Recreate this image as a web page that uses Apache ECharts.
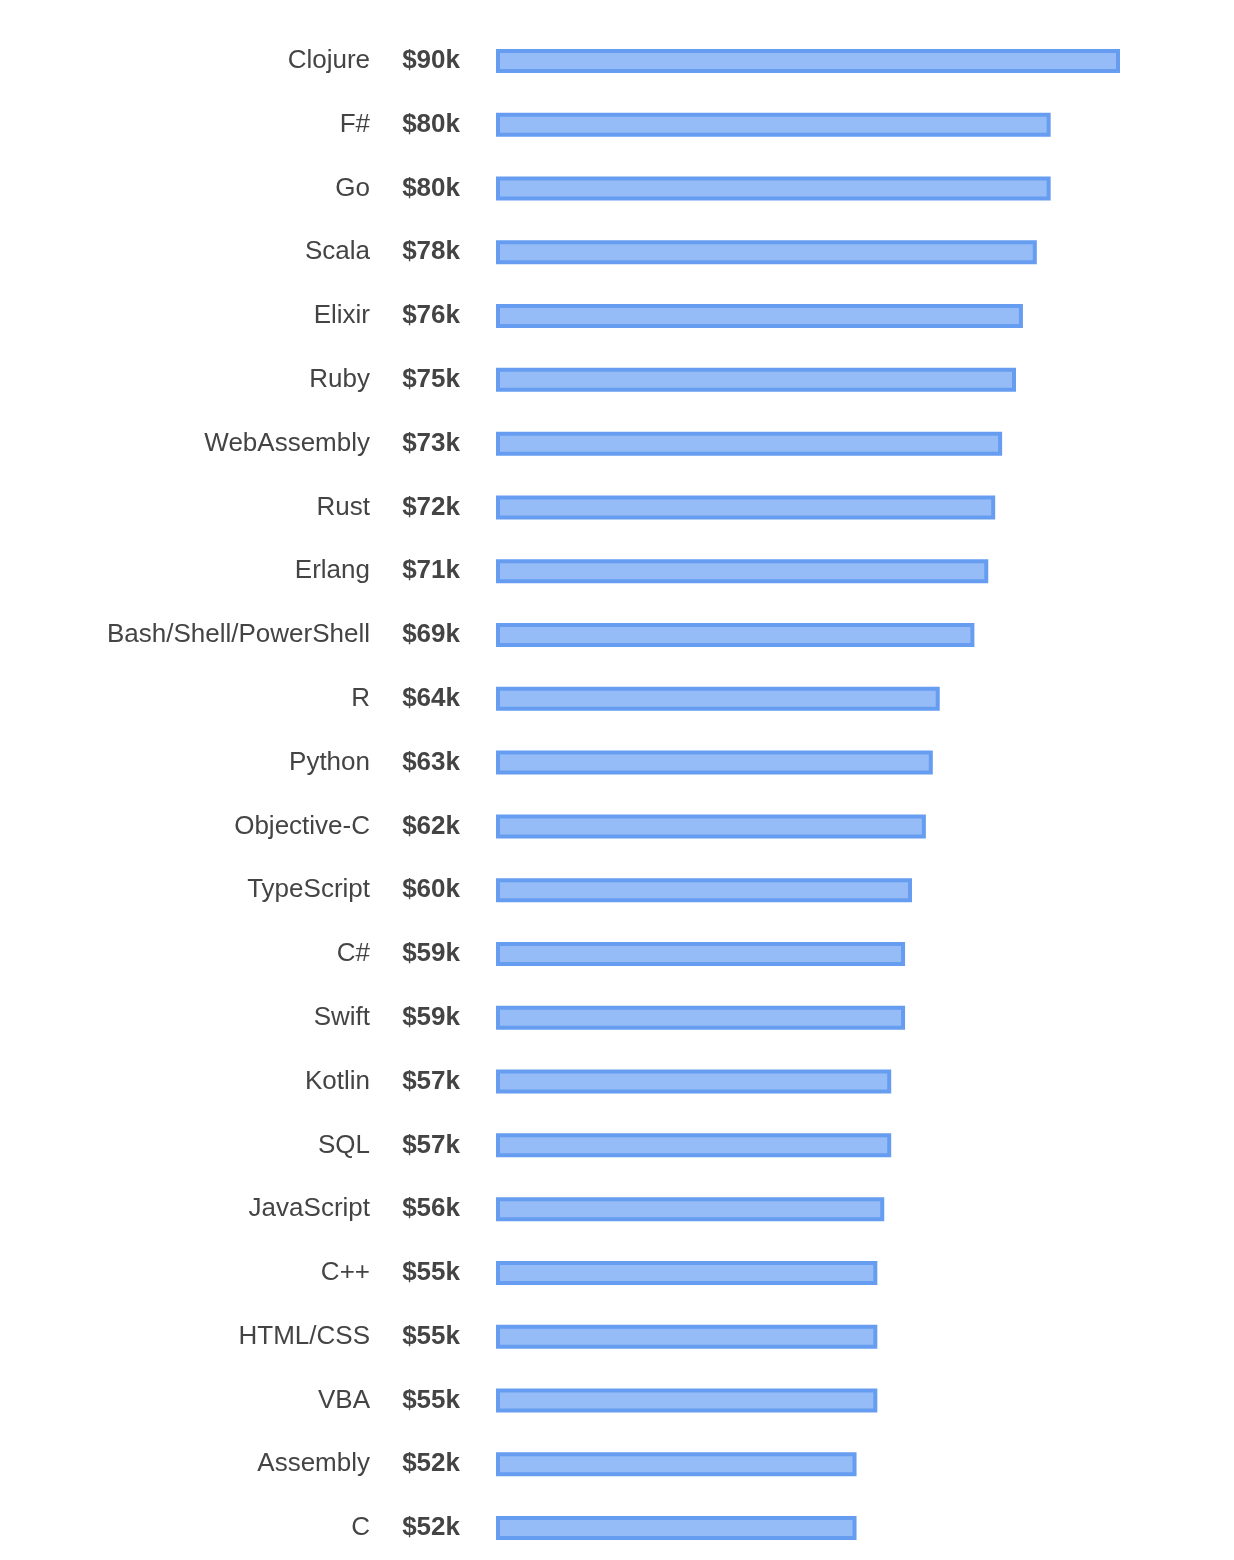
<!DOCTYPE html>
<html lang="en">
  <head>
    <meta charset="UTF-8" />
    <title>Salaries by language</title>
    <script src="https://cdn.jsdelivr.net/npm/echarts@6/dist/echarts.min.js"></script>
    <style>
      html, body { margin: 0; padding: 0; background: #fff; }
    </style>
  </head>
  <body>
    <div id="main" style="width: 1234px; height: 1560px;"></div>
    <script type="text/javascript">
      // languages, top to bottom
      var languages = [
        'Clojure', 'F#', 'Go', 'Scala', 'Elixir', 'Ruby', 'WebAssembly', 'Rust',
        'Erlang', 'Bash/Shell/PowerShell', 'R', 'Python', 'Objective-C', 'TypeScript',
        'C#', 'Swift', 'Kotlin', 'SQL', 'JavaScript', 'C++', 'HTML/CSS', 'VBA',
        'Assembly', 'C'
      ]
      // median salary, thousands of dollars
      var salaries = [
        90, 80, 80, 78, 76, 75, 73, 72,
        71, 69, 64, 63, 62, 60,
        59, 59, 57, 57, 56, 55, 55, 55,
        52, 52
      ]
      var salaryLabels = salaries.map(function (v) { return '$' + v + 'k' })

      var myChart = echarts.init(document.getElementById('main'))

      var font = 'Helvetica, Arial, "Liberation Sans", sans-serif'

      var option = {
        animation: false,
        grid: {
          left: 496,
          top: 29,
          width: 624,
          height: 1536
        },
        xAxis: {
          type: 'value',
          min: 0,
          max: 90,
          show: false
        },
        yAxis: [
          {
            type: 'category',
            data: languages,
            inverse: true,
            axisLine: { show: false },
            axisTick: { show: false },
            axisLabel: {
              margin: 126,
              fontSize: 26,
              color: '#444',
              fontFamily: font
            }
          },
          {
            type: 'category',
            position: 'left',
            data: salaryLabels,
            inverse: true,
            axisLine: { show: false },
            axisTick: { show: false },
            axisLabel: {
              margin: 36,
              fontSize: 26,
              fontWeight: 'bold',
              color: '#444',
              fontFamily: font
            }
          }
        ],
        series: [
          {
            type: 'bar',
            data: salaries,
            yAxisIndex: 0,
            barWidth: 24,
            itemStyle: {
              color: '#95bcf6',
              borderColor: '#669df0',
              borderWidth: 4
            }
          }
        ]
      }

      myChart.setOption(option)
    </script>
  </body>
</html>
